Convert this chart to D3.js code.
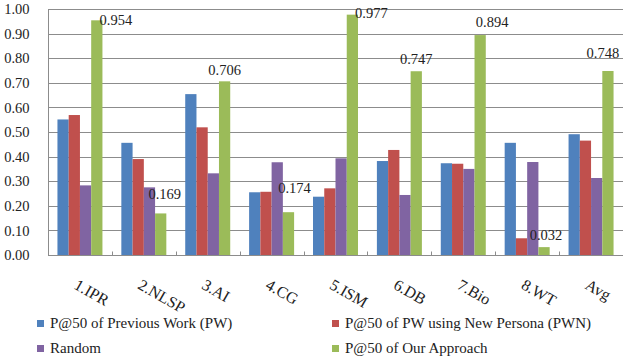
<!DOCTYPE html>
<meta charset="utf-8">
<style>
body { margin: 0; background: #fff; }
.grid line { stroke: #8c8c8c; stroke-width: 1; }
.axis line { stroke: #8c8c8c; }
</style>
<body>
<svg width="630" height="360"></svg>
</body>
<script src="https://d3js.org/d3.v7.min.js"></script>
<script>

var categories = ["1.IPR", "2.NLSP", "3.AI", "4.CG", "5.ISM", "6.DB", "7.Bio", "8.WT", "Avg"];
var seriesNames = ["P@50 of Previous Work (PW)", "P@50 of PW using New Persona (PWN)", "Random", "P@50 of Our Approach"];
var colors = ["#4f81bd", "#c0504d", "#8064a2", "#9bbb59"];

// values
var previousWork = [0.551, 0.456, 0.654, 0.255, 0.237, 0.382, 0.373, 0.456, 0.491];
var newPersona   = [0.569, 0.390, 0.519, 0.257, 0.271, 0.427, 0.371, 0.068, 0.465];
var random       = [0.283, 0.275, 0.332, 0.377, 0.393, 0.244, 0.350, 0.378, 0.313];
var ourApproach  = [0.954, 0.169, 0.706, 0.174, 0.977, 0.747, 0.894, 0.032, 0.748];

var yTicks = [0, 0.1, 0.2, 0.3, 0.4, 0.5, 0.6, 0.7, 0.8, 0.9, 1.0];

// nudges for the value labels (dx, dy from top of the green bar), as placed in the original
var labelShift = [[19, 0], [4, -20], [0, -11], [6, -24], [19, -2], [0, -12], [12, -13], [2, -12], [-5, -18]];

var allSeries = [previousWork, newPersona, random, ourApproach];
var serif = "'Liberation Serif', 'Times New Roman', serif";

var svg = d3.select("svg"),
    margin = {top: 9, right: 7, bottom: 105, left: 48},
    width = +svg.attr("width") - margin.left - margin.right,
    height = +svg.attr("height") - margin.top - margin.bottom;

var g = svg.append("g")
    .attr("transform", "translate(" + margin.left + "," + margin.top + ")");

var x0 = d3.scaleBand().domain(categories).range([0, width]).padding(0);
var x1 = d3.scaleBand().domain(d3.range(4)).range([0, x0.bandwidth()])
    .paddingInner(0).paddingOuter(0.84);
var y = d3.scaleLinear().domain([0, 1]).range([height, 0]);

// gridlines
g.append("g").attr("class", "grid")
  .selectAll("line")
  .data(yTicks.slice(1))
  .enter().append("line")
    .attr("x1", 0).attr("x2", width)
    .attr("y1", function(d) { return Math.round(y(d)) + 0.5; })
    .attr("y2", function(d) { return Math.round(y(d)) + 0.5; });

// y axis
var yAxis = g.append("g")
    .attr("class", "axis axis--y")
    .attr("transform", "translate(0.5,0)")
    .call(d3.axisLeft(y).tickValues(yTicks).tickSize(0).tickPadding(20)
      .tickFormat(d3.format(".2f")));
yAxis.select(".domain").remove();
yAxis.selectAll("text")
    .attr("x", -19)
    .style("font-family", serif)
    .style("font-size", "14.5px")
    .attr("fill", "#222");

// bars
var groups = g.selectAll(".cat")
  .data(categories)
  .enter().append("g")
    .attr("class", "cat")
    .attr("transform", function(d) { return "translate(" + x0(d) + ",0)"; });

groups.selectAll("rect")
  .data(function(d, i) { return allSeries.map(function(s, k) { return {k: k, v: s[i]}; }); })
  .enter().append("rect")
    .attr("x", function(d) { return x1(d.k); })
    .attr("y", function(d) { return y(d.v); })
    .attr("width", x1.bandwidth())
    .attr("height", function(d) { return height - y(d.v); })
    .attr("fill", function(d) { return colors[d.k]; });

// x axis
var xAxis = g.append("g")
    .attr("class", "axis axis--x")
    .attr("transform", "translate(0," + (height + 0.5) + ")");
xAxis.append("line").attr("x1", 0).attr("x2", width).attr("y1", 0).attr("y2", 0);
xAxis.selectAll(".tk")
  .data(categories.slice(1))
  .enter().append("line")
    .attr("class", "tk")
    .attr("x1", function(d) { return Math.round(x0(d)) + 0.5; })
    .attr("x2", function(d) { return Math.round(x0(d)) + 0.5; })
    .attr("y1", 0).attr("y2", -4);

xAxis.selectAll("text")
  .data(categories)
  .enter().append("text")
    .attr("transform", function(d) {
      return "translate(" + (x0(d) + x0.bandwidth() / 2 - 1) + ",22) rotate(30)";
    })
    .attr("dy", "0.75em")
    .attr("text-anchor", "start")
    .attr("fill", "#222")
    .style("font-family", serif)
    .style("font-size", "16px")
    .text(function(d) { return d; });

// left axis line
g.append("line")
    .attr("x1", 0.5).attr("x2", 0.5).attr("y1", 0).attr("y2", height)
    .attr("stroke", "#8c8c8c");

// value labels on our approach
g.selectAll(".dlabel")
  .data(ourApproach)
  .enter().append("text")
    .attr("class", "dlabel")
    .attr("x", function(d, i) { return x0(categories[i]) + x1(3) + x1.bandwidth() / 2 + labelShift[i][0]; })
    .attr("y", function(d, i) { return y(d) + labelShift[i][1]; })
    .attr("dy", "0.35em")
    .attr("text-anchor", "middle")
    .attr("fill", "#222")
    .style("font-family", serif)
    .style("font-size", "14.5px")
    .text(function(d) { return d3.format(".3f")(d); });

// legend
var legendPos = [[37, 328], [332, 328], [37, 353], [332, 353]];
var legend = svg.append("g").attr("class", "legend")
  .selectAll("g")
  .data(seriesNames)
  .enter().append("g")
    .attr("transform", function(d, i) { return "translate(" + legendPos[i][0] + "," + legendPos[i][1] + ")"; });
legend.append("rect")
    .attr("x", 0).attr("y", -8).attr("width", 7).attr("height", 7)
    .attr("fill", function(d, i) { return colors[i]; });
legend.append("text")
    .attr("x", 13).attr("y", 0)
    .attr("fill", "#222")
    .style("font-family", serif)
    .style("font-size", "15px")
    .text(function(d) { return d; });

</script>
